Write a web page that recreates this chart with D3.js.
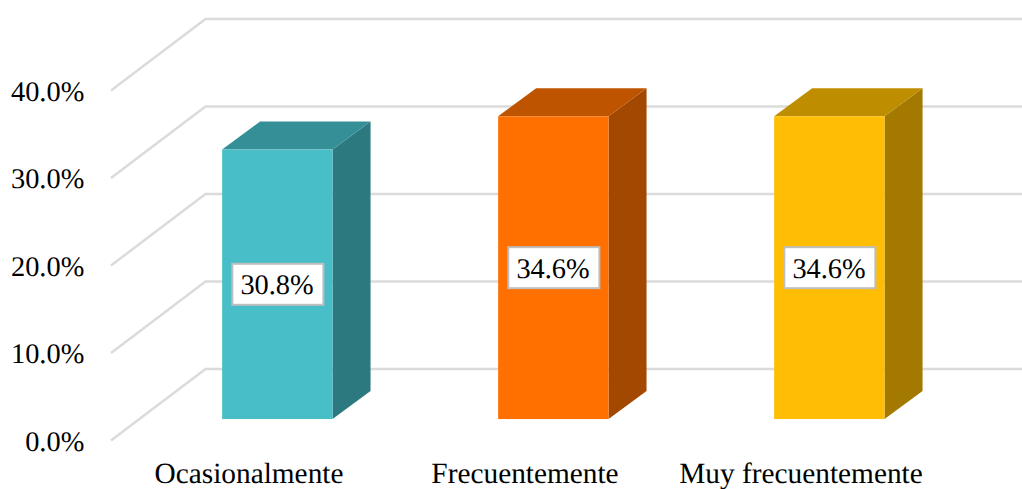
<!DOCTYPE html>
<html><head><meta charset="utf-8">
<script src="https://cdn.jsdelivr.net/npm/d3@7"></script>
<style>html,body{margin:0;padding:0;background:#fff}svg{display:block}text{font-family:"Liberation Serif",serif;fill:#000;text-rendering:geometricPrecision}</style>
</head><body><svg id="c" width="1022" height="489"></svg>
<script>
const categories = ["Ocasionalmente","Frecuentemente","Muy frecuentemente"];
const values = [30.8,34.6,34.6];
const labels = ["30.8%","34.6%","34.6%"];
const yTicks = [0,10,20,30,40];
const frontColors = ["#47BEC8","#FF7000","#FFBD03"];
const topColors = ["#358F97","#BF5400","#BF8E00"];
const sideColors = ["#2C7A80","#A34800","#A37900"];

const svg = d3.select("#c");
const x = d3.scaleBand().domain(categories).range([111,939]).paddingInner(0).paddingOuter(0);
const y = d3.scaleLinear().domain([0,40]).range([440.5,90.5]);
const depthX = 94.5, depthY = -71.5;      // floor depth vector
const barStart = 0.30;                    // bar position within the depth
const barDX = 38, barDY = -28;            // bar depth vector
const barW = x.bandwidth()*0.4;
const valueFont = 28.4, catFont = 29.33;

// gridlines: floor/wall diagonal then along the back wall
svg.append("g").selectAll("path").data(yTicks).join("path")
  .attr("fill","none").attr("stroke","#DBDBDB").attr("stroke-width",2.5)
  .attr("d",t=>{const p=d3.path();p.moveTo(x.range()[0],y(t));
    p.lineTo(x.range()[0]+depthX,y(t)+depthY);p.lineTo(x.range()[1]+depthX,y(t)+depthY);return p.toString();});

// bars
const bars = svg.append("g").selectAll("g").data(categories).join("g");
bars.each(function(c,i){
  const g=d3.select(this);
  const x0=x(c)+(x.bandwidth()-barW)/2+barStart*depthX, x1=x0+barW;
  const y0=y(0)+barStart*depthY, yt=y0-(y(0)-y(values[i]));
  const poly=pts=>{const p=d3.path();pts.forEach((q,k)=>k?p.lineTo(q[0],q[1]):p.moveTo(q[0],q[1]));p.closePath();return p.toString();};
  g.append("path").attr("fill",sideColors[i]).attr("d",poly([[x1,y0],[x1+barDX,y0+barDY],[x1+barDX,yt+barDY],[x1,yt]]));
  g.append("path").attr("fill",topColors[i]).attr("d",poly([[x0,yt],[x0+barDX,yt+barDY],[x1+barDX,yt+barDY],[x1,yt]]));
  g.append("rect").attr("fill",frontColors[i]).attr("x",x0).attr("y",yt).attr("width",barW).attr("height",y0-yt);
  // data label
  const cx=(x0+x1)/2+0.5, cy=(y0+yt)/2;
  g.append("rect").attr("x",cx-45.5).attr("y",cy-20.5).attr("width",91).attr("height",41)
    .attr("fill","#fff").attr("stroke","#BFBFBF").attr("stroke-width",2);
  g.append("text").attr("x",cx-0.8).attr("y",cy+10).attr("text-anchor","middle").attr("font-size",valueFont).text(labels[i]);
});

// axes
const yAxis = d3.axisLeft(y).tickValues(yTicks).tickSize(0).tickPadding(0).tickFormat(d=>d3.format(".1f")(d)+"%");
const yg = svg.append("g").attr("transform","translate(84.3,0)").call(yAxis);
yg.select(".domain").remove();
yg.selectAll("text").attr("font-size",valueFont).attr("dy",null).attr("y",9.5);
const xAxis = d3.axisBottom(x).tickSize(0).tickPadding(0);
const xg = svg.append("g").call(xAxis);
xg.select(".domain").remove();
xg.selectAll("text").attr("font-size",catFont).attr("dy",null).attr("y",482.6);
xg.attr("font-family",null); yg.attr("font-family",null);
</script></body></html>
